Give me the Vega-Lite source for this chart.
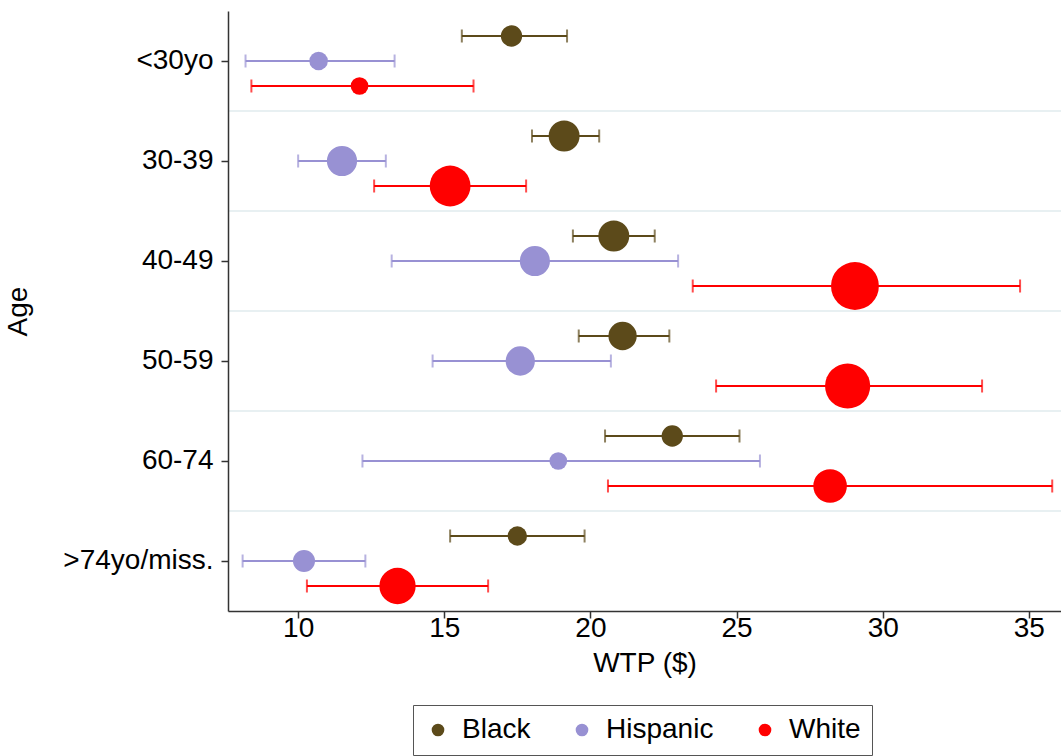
{
  "$schema": "https://vega.github.io/schema/vega-lite/v6.json",
  "autosize": "none",
  "width": 833,
  "height": 600,
  "padding": {"left": 228, "top": 11, "right": 0, "bottom": 145},
  "background": "white",
  "config": {
    "font": "Liberation Sans",
    "view": {"stroke": null},
    "axis": {"labelFont": "Liberation Sans", "titleFont": "Liberation Sans", "labelColor": "#000", "titleColor": "#000", "titleFontWeight": "normal", "domainColor": "#333", "tickColor": "#333", "domainWidth": 1.5, "tickWidth": 1.5}
  },
  "data": {"values": [
    {"age": "<30yo", "race": "Black", "wtp": 17.3, "lo": 15.6, "hi": 19.2, "n": 58},
    {"age": "<30yo", "race": "Hispanic", "wtp": 10.7, "lo": 8.2, "hi": 13.3, "n": 44},
    {"age": "<30yo", "race": "White", "wtp": 12.1, "lo": 8.4, "hi": 16.0, "n": 40},
    {"age": "30-39", "race": "Black", "wtp": 19.1, "lo": 18.0, "hi": 20.3, "n": 122},
    {"age": "30-39", "race": "Hispanic", "wtp": 11.5, "lo": 10.0, "hi": 13.0, "n": 116},
    {"age": "30-39", "race": "White", "wtp": 15.2, "lo": 12.6, "hi": 17.8, "n": 212},
    {"age": "40-49", "race": "Black", "wtp": 20.8, "lo": 19.4, "hi": 22.2, "n": 122},
    {"age": "40-49", "race": "Hispanic", "wtp": 18.1, "lo": 13.2, "hi": 23.0, "n": 116},
    {"age": "40-49", "race": "White", "wtp": 29.05, "lo": 23.5, "hi": 34.7, "n": 292},
    {"age": "50-59", "race": "Black", "wtp": 21.1, "lo": 19.6, "hi": 22.7, "n": 102},
    {"age": "50-59", "race": "Hispanic", "wtp": 17.6, "lo": 14.6, "hi": 20.7, "n": 109},
    {"age": "50-59", "race": "White", "wtp": 28.8, "lo": 24.3, "hi": 33.4, "n": 260},
    {"age": "60-74", "race": "Black", "wtp": 22.8, "lo": 20.5, "hi": 25.1, "n": 58},
    {"age": "60-74", "race": "Hispanic", "wtp": 18.9, "lo": 12.2, "hi": 25.8, "n": 40},
    {"age": "60-74", "race": "White", "wtp": 28.2, "lo": 20.6, "hi": 35.8, "n": 144},
    {"age": ">74yo/miss.", "race": "Black", "wtp": 17.5, "lo": 15.2, "hi": 19.8, "n": 48},
    {"age": ">74yo/miss.", "race": "Hispanic", "wtp": 10.2, "lo": 8.1, "hi": 12.3, "n": 62},
    {"age": ">74yo/miss.", "race": "White", "wtp": 13.4, "lo": 10.3, "hi": 16.5, "n": 168}
  ]},
  "layer": [
    {
      "transform": [{"filter": "datum.race === 'Black' && datum.age !== '>74yo/miss.'"}],
      "mark": {"type": "rule", "color": "#e8f0f2", "strokeWidth": 2},
      "encoding": {
        "y": {"field": "age", "type": "nominal", "bandPosition": 1,
              "scale": {"domain": ["<30yo", "30-39", "40-49", "50-59", "60-74", ">74yo/miss."], "paddingInner": 0, "paddingOuter": 0},
              "axis": {"title": "Age", "labelFontSize": 28, "titleFontSize": 28, "tickSize": 7, "labelPadding": 8, "titlePadding": 30, "grid": false, "orient": "left", "zindex": 2}}
      }
    },
    {
      "mark": {"type": "circle", "opacity": 1},
      "encoding": {
        "x": {"field": "wtp", "type": "quantitative", "scale": {"domain": [7.6, 36.1], "nice": false, "zero": false},
              "axis": {"values": [10, 15, 20, 25, 30, 35], "title": "WTP ($)", "labelFontSize": 28, "titleFontSize": 28, "tickSize": 7, "labelPadding": -4, "titlePadding": 7, "grid": false, "zindex": 2}},
        "y": {"field": "age", "type": "nominal",
              "axis": {"title": "Age", "labelFontSize": 28, "titleFontSize": 28, "tickSize": 7, "labelPadding": 8, "titlePadding": 30, "grid": false, "orient": "left", "zindex": 2}},
        "yOffset": {"field": "race", "type": "nominal", "scale": {"domain": ["Black", "Hispanic", "White"], "paddingInner": 0, "paddingOuter": 0.5}},
        "size": {"field": "n", "type": "quantitative", "scale": {"domain": [0, 100], "range": [0, 785], "zero": true}, "legend": null},
        "color": {"field": "race", "type": "nominal", "scale": {"domain": ["Black", "Hispanic", "White"], "range": ["#5c4a1a", "#9891d3", "#ff0000"]},
                  "legend": {"title": null, "orient": "none", "legendX": 185, "legendY": 694, "direction": "horizontal", "labelFontSize": 28, "labelFont": "Liberation Sans", "labelColor": "#000", "symbolType": "circle", "symbolSize": 160, "symbolStrokeWidth": 0, "strokeColor": "#555", "padding": 11, "columnPadding": 37, "labelOffset": 10}}
      }
    },
    {
      "mark": {"type": "rule", "strokeWidth": 2},
      "encoding": {
        "x": {"field": "lo", "type": "quantitative"},
        "x2": {"field": "hi"},
        "y": {"field": "age", "type": "nominal"},
        "yOffset": {"field": "race", "type": "nominal"},
        "color": {"field": "race", "type": "nominal"}
      }
    },
    {
      "mark": {"type": "tick", "orient": "vertical", "size": 13, "thickness": 2},
      "encoding": {
        "x": {"field": "lo", "type": "quantitative"},
        "y": {"field": "age", "type": "nominal"},
        "yOffset": {"field": "race", "type": "nominal"},
        "color": {"field": "race", "type": "nominal"}
      }
    },
    {
      "mark": {"type": "tick", "orient": "vertical", "size": 13, "thickness": 2},
      "encoding": {
        "x": {"field": "hi", "type": "quantitative"},
        "y": {"field": "age", "type": "nominal"},
        "yOffset": {"field": "race", "type": "nominal"},
        "color": {"field": "race", "type": "nominal"}
      }
    }
  ]
}
